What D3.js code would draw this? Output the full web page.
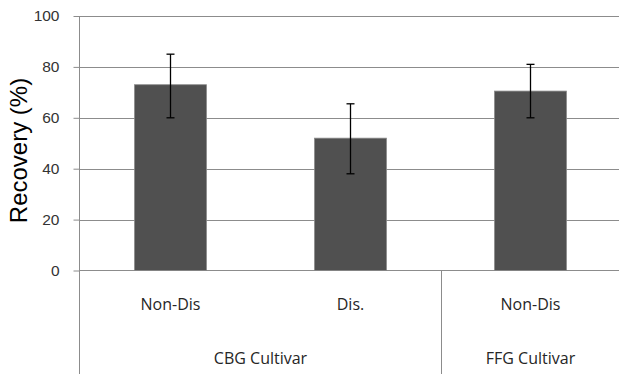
<!DOCTYPE html>
<html>
<head>
<meta charset="utf-8">
<script src="https://cdn.jsdelivr.net/npm/d3@7"></script>
<style>
  body { margin: 0; background: #fff; }
  svg { display: block; }
</style>
</head>
<body>
<svg id="chart"></svg>
<script>
// data
var categories = ["Non-Dis", "Dis.", "Non-Dis"];
var groups = ["CBG Cultivar", "CBG Cultivar", "FFG Cultivar"];
var recovery = [73, 52, 70.5];
var errLow = [60, 38, 60];
var errHigh = [85, 65.5, 81];
var yTicks = [0, 20, 40, 60, 80, 100];

var W = 619, H = 374;
var plotL = 79.5, plotR = 619.5, plotT = 16, plotB = 270.5;

var svg = d3.select("#chart")
  .attr("width", W)
  .attr("height", H);

var x = d3.scaleBand()
  .domain(d3.range(categories.length))
  .range([plotL, plotR])
  .paddingInner(0)
  .paddingOuter(0);

var y = d3.scaleLinear()
  .domain([0, 100])
  .range([plotB, plotT]);

// gridlines
svg.append("g")
  .selectAll("line")
  .data(yTicks.filter(function (d) { return d > 0; }))
  .enter()
  .append("line")
  .attr("x1", plotL)
  .attr("x2", plotR)
  .attr("y1", function (d) { return Math.round(y(d)) + 0.5; })
  .attr("y2", function (d) { return Math.round(y(d)) + 0.5; })
  .attr("stroke", "#8c8c8c")
  .attr("stroke-width", 1);

// y axis
var yAxis = svg.append("g")
  .attr("transform", "translate(" + plotL + ",0)")
  .call(d3.axisLeft(y).tickValues(yTicks).tickSize(6).tickPadding(14));
yAxis.select(".domain").remove();
yAxis.selectAll(".tick line").attr("stroke", "#8c8c8c");
yAxis.selectAll(".tick text")
  .attr("fill", "#333")
  .style("font-family", "Liberation Sans, Arial, sans-serif")
  .style("font-size", "15.5px");

svg.append("line")
  .attr("x1", plotL).attr("x2", plotL)
  .attr("y1", plotT).attr("y2", H)
  .attr("stroke", "#8c8c8c");

// bottom axis
svg.append("line")
  .attr("x1", plotL).attr("x2", plotR)
  .attr("y1", plotB).attr("y2", plotB)
  .attr("stroke", "#8c8c8c");

// group separator
var groupNames = [];
groups.forEach(function (g) { if (groupNames.indexOf(g) < 0) groupNames.push(g); });
var groupSpans = groupNames.map(function (g) {
  var idx = d3.range(groups.length).filter(function (i) { return groups[i] === g; });
  return { name: g, x0: x(idx[0]), x1: x(idx[idx.length - 1]) + x.bandwidth() };
});
svg.append("g")
  .selectAll("line")
  .data(groupSpans.slice(1))
  .enter()
  .append("line")
  .attr("x1", function (d) { return Math.round(d.x0) + 1.5; })
  .attr("x2", function (d) { return Math.round(d.x0) + 1.5; })
  .attr("y1", plotB)
  .attr("y2", H)
  .attr("stroke", "#8c8c8c");

// bars
var barW = x.bandwidth() * 0.4;
svg.append("g")
  .selectAll("rect")
  .data(recovery)
  .enter()
  .append("rect")
  .attr("x", function (d, i) { return x(i) + (x.bandwidth() - barW) / 2 + 1; })
  .attr("y", function (d) { return y(d); })
  .attr("width", barW)
  .attr("height", function (d) { return plotB - y(d); })
  .attr("fill", "#505050")
  .attr("stroke", "#8a8a8a")
  .attr("stroke-width", 0.8);

// error bars
var eb = svg.append("g").attr("stroke", "#000").attr("stroke-width", 1.3);
recovery.forEach(function (d, i) {
  var cx = x(i) + x.bandwidth() / 2 + 1;
  eb.append("line").attr("x1", cx).attr("x2", cx).attr("y1", y(errHigh[i])).attr("y2", y(errLow[i]));
  eb.append("line").attr("x1", cx - 4).attr("x2", cx + 4).attr("y1", y(errHigh[i])).attr("y2", y(errHigh[i]));
  eb.append("line").attr("x1", cx - 4).attr("x2", cx + 4).attr("y1", y(errLow[i])).attr("y2", y(errLow[i]));
});

// category labels
svg.append("g")
  .selectAll("text")
  .data(categories)
  .enter()
  .append("text")
  .attr("x", function (d, i) { return x(i) + x.bandwidth() / 2 + 1; })
  .attr("y", 310)
  .attr("text-anchor", "middle")
  .attr("fill", "#262626")
  .style("font-family", "Open Sans, sans-serif")
  .style("font-size", "16px")
  .text(function (d) { return d; });

svg.append("g")
  .selectAll("text")
  .data(groupSpans)
  .enter()
  .append("text")
  .attr("x", function (d) { return (d.x0 + d.x1) / 2 + 1; })
  .attr("y", 364)
  .attr("text-anchor", "middle")
  .attr("fill", "#262626")
  .style("font-family", "Open Sans, sans-serif")
  .style("font-size", "16px")
  .text(function (d) { return d.name; });

// y label
svg.append("text")
  .attr("transform", "translate(27,150.5)rotate(-90)")
  .attr("text-anchor", "middle")
  .attr("fill", "#000")
  .style("font-family", "Liberation Sans, Arial, sans-serif")
  .style("font-size", "24px")
  .text("Recovery (%)");
</script>
</body>
</html>
